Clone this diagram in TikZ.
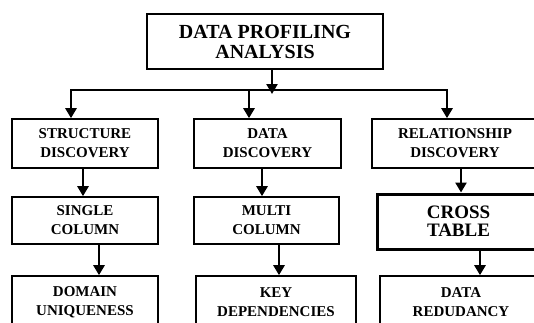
\documentclass[tikz,border=0pt]{standalone}
\usepackage{fontspec}
\setmainfont{Liberation Serif}
\usetikzlibrary{arrows.meta}
\tikzset{
  box/.style={draw=black, line width=1.6pt, rectangle, inner sep=0pt, align=center,
    font=\bfseries\fontsize{15}{19}\selectfont},
  topbox/.style={box, font=\bfseries\fontsize{20}{20}\selectfont},
  crossbox/.style={box, line width=3pt, font=\bfseries\fontsize{19}{18}\selectfont},
  arr/.style={line width=2.6pt, -{Triangle[width=11pt,length=10pt]}},
  conn/.style={line width=2pt}
}
\begin{document}
\begin{tikzpicture}[x=1pt,y=-1pt]
\useasboundingbox (0,0) rectangle (534,322);
\clip (0,0) rectangle (534,322);
% boxes
\node[topbox, minimum width=236pt, minimum height=55pt] (top) at (265,41.5) {DATA PROFILING\\ANALYSIS};
\node[box, minimum width=146pt, minimum height=49pt] (r1l) at (85,143.5) {STRUCTURE\\DISCOVERY};
\node[box, minimum width=147pt, minimum height=49pt] (r1m) at (267.5,143.5) {DATA\\DISCOVERY};
\node[box, minimum width=166pt, minimum height=49pt] (r1r) at (455,143.5) {RELATIONSHIP\\DISCOVERY};
\node[box, minimum width=146pt, minimum height=47pt] (r2l) at (85,220.5) {SINGLE\\COLUMN};
\node[box, minimum width=145pt, minimum height=47pt] (r2m) at (266.5,220.5) {MULTI\\COLUMN};
\node[crossbox, minimum width=163pt, minimum height=55pt] (r2r) at (458.5,221.5) {CROSS\\TABLE};
\node[box, minimum width=146pt, minimum height=52pt] (r3l) at (85,302) {DOMAIN\\UNIQUENESS};
\node[box, minimum width=160pt, minimum height=52pt] (r3m) at (276,302) {KEY\\DEPENDENCIES};
\node[box, minimum width=162pt, minimum height=52pt] (r3r) at (461,302) {DATA\\REDUDANCY};
% top connector
\coordinate (tj) at (272,94);
\coordinate (hl) at (71,90);
\coordinate (hm) at (249,90);
\coordinate (hr) at (447,90);
\draw[arr] (tj |- top.south) -- (tj);
\draw[conn] (hl) -- (hr);
\draw[arr] ([yshift=1pt]hl) -- (hl |- r1l.north);
\draw[arr] ([yshift=1pt]hm) -- (hm |- r1m.north);
\draw[arr] ([yshift=1pt]hr) -- (hr |- r1r.north);
% row 1 -> row 2
\draw[arr] (83,0 |- r1l.south) -- (83,0 |- r2l.north);
\draw[arr] (262,0 |- r1m.south) -- (262,0 |- r2m.north);
\draw[arr] (461,0 |- r1r.south) -- (461,0 |- r2r.north);
% row 2 -> row 3
\draw[arr] (99,0 |- r2l.south) -- (99,0 |- r3l.north);
\draw[arr] (279,0 |- r2m.south) -- (279,0 |- r3m.north);
\draw[arr] (480,0 |- r2r.south) -- (480,0 |- r3r.north);
\end{tikzpicture}
\end{document}
